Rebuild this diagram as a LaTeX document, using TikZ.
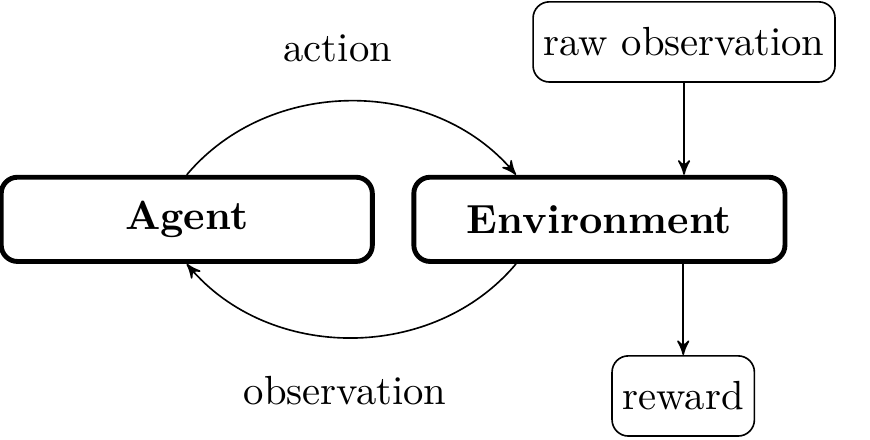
\documentclass[tikz,border=0pt]{standalone}
\usetikzlibrary{arrows,positioning}
\tikzset{
    mainbox/.style={draw, very thick, rounded corners, minimum width=91.2pt, minimum height=20.7pt, font=\bfseries},
    signalbox/.style={draw, rounded corners, inner xsep=2.6pt, minimum height=19.7pt},
}
\begin{document}
\begin{tikzpicture}[>=stealth']
    \useasboundingbox (0pt, 0pt) rectangle (213.8pt, -107.9pt);

    \node[mainbox] (agent) at (45.9pt, -53.9pt) {Agent};

    \node[mainbox] (environment) at (147.3pt, -53.9pt) {Environment};

    \node[signalbox] (rawobs) at (168.1pt, -10.3pt) {raw observation};

    \node[signalbox] (reward) at (167.9pt, -97.3pt) {reward};

    \node (action) at (83.0pt, -11.9pt) {action};

    \node (observation) at (84.8pt, -96.0pt) {observation};

    \draw[->] (agent.north) to[bend left=50] ([xshift=-20.5pt]environment.north);

    \draw[->] ([xshift=-20.5pt]environment.south) to[bend left=50] (agent.south);

    \draw[->] (rawobs) to (rawobs |- environment.north);

    \draw[->] (reward |- environment.south) to (reward);
\end{tikzpicture}
\end{document}
